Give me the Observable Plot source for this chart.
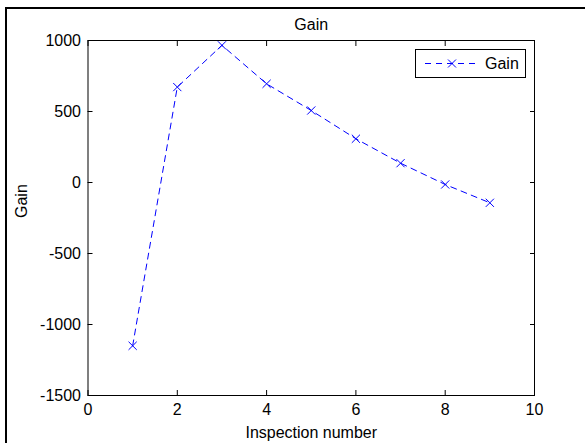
<!DOCTYPE html>
<html>
<head>
<meta charset="utf-8">
<script src="https://cdn.jsdelivr.net/npm/d3@7"></script>
<script src="https://cdn.jsdelivr.net/npm/@observablehq/plot@0.6"></script>
<style>
  body { margin: 0; background: #fff; }
  #wrap { position: relative; width: 585px; height: 443px; overflow: hidden; font-family: "Liberation Sans", Arial, sans-serif; background: #fff; }
  #border { position: absolute; left: 5px; top: 7px; width: 620px; height: 480px; border-left: 2px solid #000; border-top: 2px solid #000; box-sizing: border-box; pointer-events: none; }
  #chart { position: absolute; left: 0; top: 0; }
  #legend { position: absolute; left: 415px; top: 49px; width: 111px; height: 29px; box-sizing: border-box; border: 1px solid #000; background: #fff; }
  #legend svg { position: absolute; left: 0; top: 0; }
  #legend span { position: absolute; left: 69px; top: 4px; font-size: 16px; line-height: 20px; color: #000; }
</style>
</head>
<body>
<div id="wrap">
  <div id="chart"></div>
  <div id="legend">
    <svg width="68" height="27">
      <line x1="9" y1="13.5" x2="63" y2="13.5" stroke="#0000ff" stroke-width="1" stroke-dasharray="6,5"></line>
      <path d="M32,9.5L40,17.5M40,9.5L32,17.5" stroke="#0000ff" stroke-width="1" fill="none"></path>
    </svg>
    <span>Gain</span>
  </div>
  <div id="border"></div>
</div>
<script>
const inspection = [1, 2, 3, 4, 5, 6, 7, 8, 9];
const gain = [-1150, 672, 966, 695, 507, 308, 136, -14, -143];
const xTicks = [0, 2, 4, 6, 8, 10];
const yTicks = [-1500, -1000, -500, 0, 500, 1000];
const titleText = "Gain";
const xLabel = "Inspection number";
const yLabel = "Gain";

const data = inspection.map((x, i) => ({x, gain: gain[i]}));
const blue = "#0000ff";

const chart = Plot.plot({
  width: 585,
  height: 443,
  marginLeft: 87.5,
  marginRight: 51,
  marginTop: 40,
  marginBottom: 48,
  style: {fontFamily: "'Liberation Sans', Arial, sans-serif", fontSize: "16px", color: "#000", background: "transparent", overflow: "visible"},
  x: {domain: [0, 10]},
  y: {domain: [-1500, 1000]},
  marks: [
    Plot.line(data, {x: "x", y: "gain", stroke: blue, strokeWidth: 1, strokeDasharray: "6,5"}),
    Plot.dot(data, {x: "x", y: "gain", symbol: "times", r: 3.8, stroke: blue, strokeWidth: 1}),
    Plot.frame({stroke: "#000", strokeWidth: 1}),
    Plot.axisX(xTicks, {anchor: "bottom", tickSize: 0, tickPadding: 8, label: null, tickFormat: d => String(d), fontSize: 16}),
    Plot.axisX(xTicks, {anchor: "bottom", tickSize: -5, text: null, label: null}),
    Plot.axisX(xTicks, {anchor: "top", tickSize: -5, text: null, label: null}),
    Plot.axisY(yTicks, {anchor: "left", tickSize: 0, tickPadding: 7, label: null, tickFormat: d => String(d), fontSize: 16}),
    Plot.axisY(yTicks, {anchor: "left", tickSize: -5, text: null, label: null}),
    Plot.axisY(yTicks, {anchor: "right", tickSize: -5, text: null, label: null}),
    Plot.text([titleText], {text: d => d, frameAnchor: "top", dy: -11, lineAnchor: "bottom", fontSize: 16}),
    Plot.text([xLabel], {text: d => d, frameAnchor: "bottom", dy: 42.5, lineAnchor: "bottom", fontSize: 16}),
    Plot.text([yLabel], {text: d => d, frameAnchor: "left", dx: -61, rotate: -90, lineAnchor: "bottom", fontSize: 16})
  ]
});
document.getElementById("chart").appendChild(chart);
</script>
</body>
</html>
